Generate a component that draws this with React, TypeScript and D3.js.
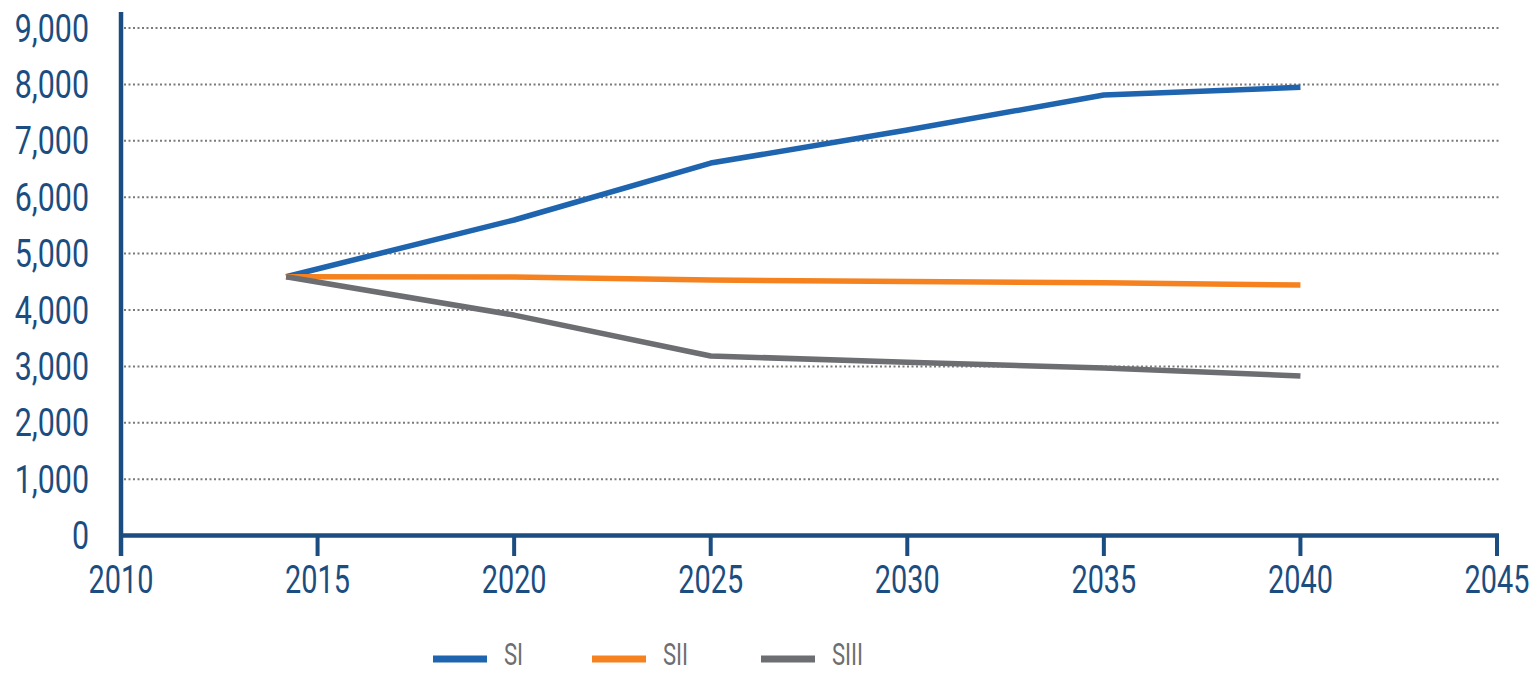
import React from "react";
import * as d3 from "d3";

const years = [2014.2, 2020, 2025, 2030, 2035, 2040];
const siValues = [4590, 5596, 6606, 7190, 7812, 7949];
const siiValues = [4590, 4585, 4530, 4505, 4485, 4443];
const siiiValues = [4590, 3910, 3184, 3075, 2970, 2830];
const seriesNames = ["SI", "SII", "SIII"];
const seriesColors = ["#1f64ae", "#f5821f", "#6d6e71"];
const xTicks = [2010, 2015, 2020, 2025, 2030, 2035, 2040, 2045];
const yTicks = [0, 1000, 2000, 3000, 4000, 5000, 6000, 7000, 8000, 9000];

const W = 1540;
const H = 674;
const FONT = "Roboto, 'Liberation Sans', sans-serif";
const AXIS = "#1b4d80";
const SX = 0.76;

function CText(props: {
  x: number;
  y: number;
  anchor: "start" | "middle" | "end";
  size: number;
  fill: string;
  sx: number;
  children: React.ReactNode;
}) {
  return (
    <text
      transform={`translate(${props.x},${props.y}) scale(${props.sx},1)`}
      textAnchor={props.anchor}
      fontFamily={FONT}
      fontSize={props.size}
      fill={props.fill}
    >
      {props.children}
    </text>
  );
}

export default function App() {
  const x = d3.scaleLinear().domain([2010, 2045]).range([121, 1497]);
  const y = d3.scaleLinear().domain([0, 9000]).range([535.6, 28]);
  const line = d3
    .line<[number, number]>()
    .x((d) => x(d[0]))
    .y((d) => y(d[1]));
  const all = [siValues, siiValues, siiiValues];
  const fmt = d3.format(",");

  return (
    <svg width={W} height={H} style={{ position: "absolute", left: 0, top: 0, background: "#fff" }}>
      {yTicks
        .filter((t) => t > 0)
        .map((t) => (
          <line
            key={t}
            x1={124}
            x2={1500}
            y1={y(t)}
            y2={y(t)}
            stroke="#7a7a7a"
            strokeWidth={2}
            strokeDasharray="2 2.5"
          />
        ))}
      {yTicks.map((t) => (
        <CText key={t} x={89} y={y(t) + 13.5} anchor="end" size={38} fill={AXIS} sx={0.8}>
          {fmt(t)}
        </CText>
      ))}
      {xTicks.map((t) => (
        <g key={t}>
          <line x1={x(t)} x2={x(t)} y1={535.6} y2={556} stroke={AXIS} strokeWidth={4} />
          <CText x={x(t)} y={593} anchor="middle" size={38} fill={AXIS} sx={SX}>
            {t}
          </CText>
        </g>
      ))}
      <line x1={121} x2={121} y1={12} y2={556} stroke={AXIS} strokeWidth={4.5} />
      <line x1={119} x2={1499} y1={535.6} y2={535.6} stroke={AXIS} strokeWidth={4.5} />
      {all.map((vals, i) => (
        <path
          key={i}
          d={line(years.map((yr, j) => [yr, vals[j]] as [number, number])) || ""}
          fill="none"
          stroke={seriesColors[i]}
          strokeWidth={5.5}
          strokeLinejoin="round"
        />
      ))}
      {seriesNames.map((n, i) => {
        const lx = [433, 592, 761][i];
        return (
          <g key={n}>
            <line x1={lx} x2={lx + 54} y1={659} y2={659} stroke={seriesColors[i]} strokeWidth={7} />
            <CText x={lx + 71} y={665} anchor="start" size={32} fill="#6d6e71" sx={0.69}>
              {n}
            </CText>
          </g>
        );
      })}
    </svg>
  );
}
